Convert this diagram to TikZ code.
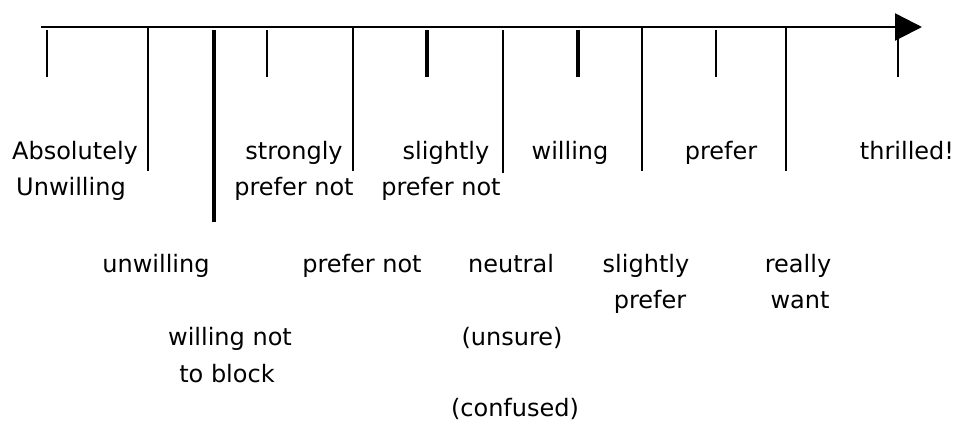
\documentclass[tikz,border=0pt]{standalone}
\usepackage{fontspec}
\setmainfont{DejaVu Sans}
\usetikzlibrary{arrows.meta}
\tikzset{
  lbl/.style={anchor=base,inner sep=0pt,font=\fontsize{24}{28}\selectfont},
  thintick/.style={line width=2.2pt},
  thicktick/.style={line width=3.2pt},
  axisline/.style={line width=2.4pt,-{Triangle[length=27pt,width=27pt]}}
}
\begin{document}
\begin{tikzpicture}[x=1pt,y=-1pt]
\useasboundingbox (0,0) rectangle (959,423);
% axis
\coordinate (a0) at (41,27);
\coordinate (a1) at (922,27);
% ticks
\draw[thintick] (898,30) -- (898,77);
\draw[axisline] (a0) -- (a1);
\draw[thintick] (47,30) -- (47,77);
\draw[thintick] (148,27) -- (148,171);
\draw[thicktick] (214,30) -- (214,222);
\draw[thintick] (267,30) -- (267,77);
\draw[thintick] (353,27) -- (353,171);
\draw[thicktick] (427,30) -- (427,77);
\draw[thintick] (503,30) -- (503,173);
\draw[thicktick] (578,30) -- (578,77);
\draw[thintick] (642,27) -- (642,171);
\draw[thintick] (716,30) -- (716,77);
\draw[thintick] (786,27) -- (786,171);
% labels, upper row
\node[lbl] (l1a) at (75,159) {Absolutely};
\node[lbl] (l1b) at (71,195) {Unwilling};
\node[lbl] (l4a) at (294,159) {strongly};
\node[lbl] (l4b) at (294,195) {prefer not};
\node[lbl] (l6a) at (446,159) {slightly};
\node[lbl] (l6b) at (441,195) {prefer not};
\node[lbl] (l8) at (570,159) {willing};
\node[lbl] (l10) at (721,159) {prefer};
\node[lbl] (l12) at (907,159) {thrilled!};
% labels, lower rows
\node[lbl] (l2) at (156,272) {unwilling};
\node[lbl] (l3a) at (230,345) {willing not};
\node[lbl] (l3b) at (227,382) {to block};
\node[lbl] (l5) at (362,272) {prefer not};
\node[lbl] (l7a) at (511,272) {neutral};
\node[lbl] (l7b) at (512,345) {(unsure)};
\node[lbl] (l7c) at (515,416) {(confused)};
\node[lbl] (l9a) at (646,272) {slightly};
\node[lbl] (l9b) at (650,308) {prefer};
\node[lbl] (l11a) at (798,272) {really};
\node[lbl] (l11b) at (800,308) {want};
\end{tikzpicture}
\end{document}
